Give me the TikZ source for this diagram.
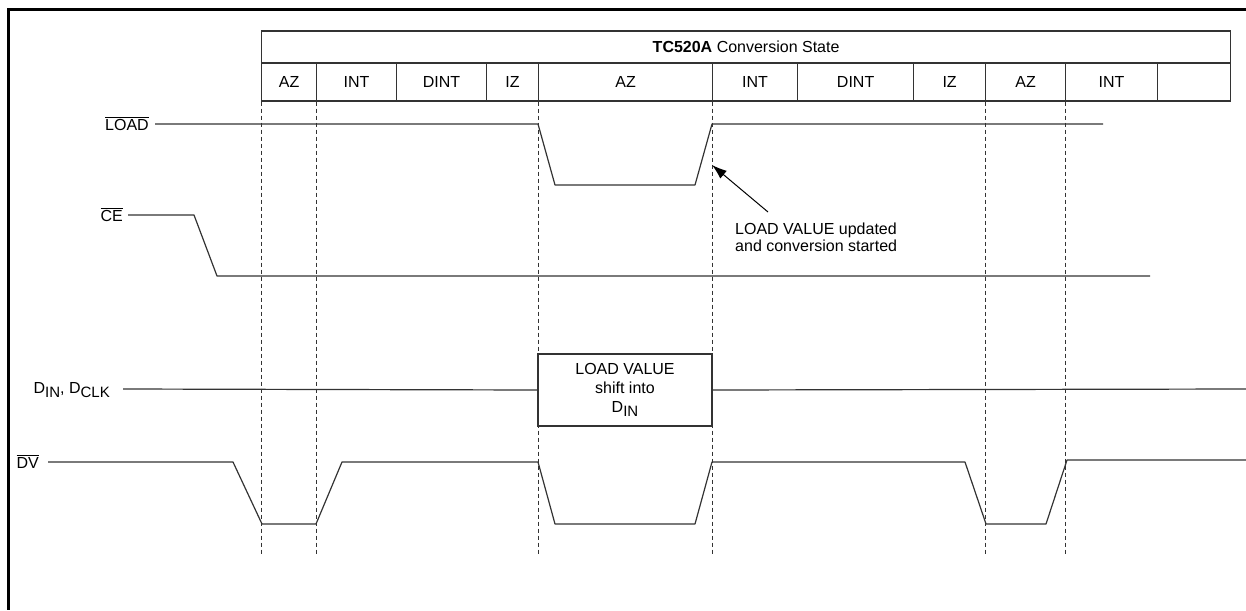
\documentclass[tikz,border=0pt]{standalone}
\usepackage{fontspec}
\setmainfont{Liberation Sans}
\usepackage{tikz}
\usetikzlibrary{calc,arrows.meta,positioning}

\newcommand{\mybar}[1]{$\overline{\mbox{#1}}$}
\newcommand{\mysub}[1]{\raisebox{-4pt}{\fontsize{15}{15}\selectfont #1}}

\begin{document}
\begin{tikzpicture}[
  x=1pt,
  y=-1pt,
  font=\fontsize{16}{19}\selectfont,
  mycell/.style={
    draw=black!80,
    line width=1.2pt,
    minimum height=38pt,
    inner sep=0pt,
    anchor=west
    },
  mywave/.style={
    draw=black!80,
    line width=1.2pt,
    line join=round
    },
  mydash/.style={
    draw=black!80,
    line width=0.9pt,
    dash pattern=on 4pt off 3pt
    },
  mylabel/.style={
    inner sep=0pt,
    anchor=base east
    }
]

\useasboundingbox (0,0) rectangle (1246,610);
\draw[line width=3pt] (1246,9.5) -- (8.5,9.5) -- (8.5,610);

\node[mycell, minimum width=969pt, minimum height=32pt] (state) at (261,47) {\textbf{TC520A} Conversion State};
\foreach \xa/\xb/\Name [count=\i from 1] in {261/316/AZ, 316/396/INT, 396/486/DINT, 486/538/IZ, 538/712/AZ, 712/797/INT, 797/913/DINT, 913/985/IZ, 985/1065/AZ, 1065/1157/INT, 1157/1230/{}}
  \node[mycell, minimum width={(\xb-\xa)*1pt}] (c\i) at (\xa,82) {\Name};

\foreach \i in {1,2,5,6,9,10}
  \draw[mydash] (c\i.south west) -- ++(0,452);

\node[mylabel] (load) at (149,130) {\mybar{LOAD}};
\node[mylabel] (ce) at (123,221) {\mybar{CE}};
\node[mylabel] (din) at (110,393) {D\mysub{IN}, D\mysub{CLK}};
\node[mylabel] (dv) at (39,468) {\mybar{DV}};

\draw[mywave] (155,124) -- (538,124) -- (555,185) -- (695,185) -- (712,124) -- (1103,124);
\draw[mywave] (128,215) -- (194,215) -- (217,276) -- (1150,276);

\node[draw=black!80, line width=1.2pt, minimum width=174pt, minimum height=72pt, align=center, inner sep=0pt] (value) at (625,390) {LOAD VALUE\\shift into\\D\mysub{IN}};
\draw[mywave] (123,389) -- (value.west);
\draw[mywave] (value.east) -- (1246,389);

\draw[mywave] (48,462) -- (233,462) -- (262,524) -- (316,524) -- (342,462) -- (538,462) -- (555,524) -- (695,524) -- (712,462) -- (965,462) -- (986,524) -- (1046,524) -- (1067,460) -- (1246,460);

\coordinate (edge) at (712,165);
\node[inner sep=0pt, anchor=north west, align=left, font=\fontsize{16}{17}\selectfont] (note) at (735,223) {LOAD VALUE updated\\and conversion started};
\draw[-{Latex[length=15pt,width=10pt]}, line width=1pt] ($(note.north west)+(33,-11)$) -- (edge);

\end{tikzpicture}
\end{document}
